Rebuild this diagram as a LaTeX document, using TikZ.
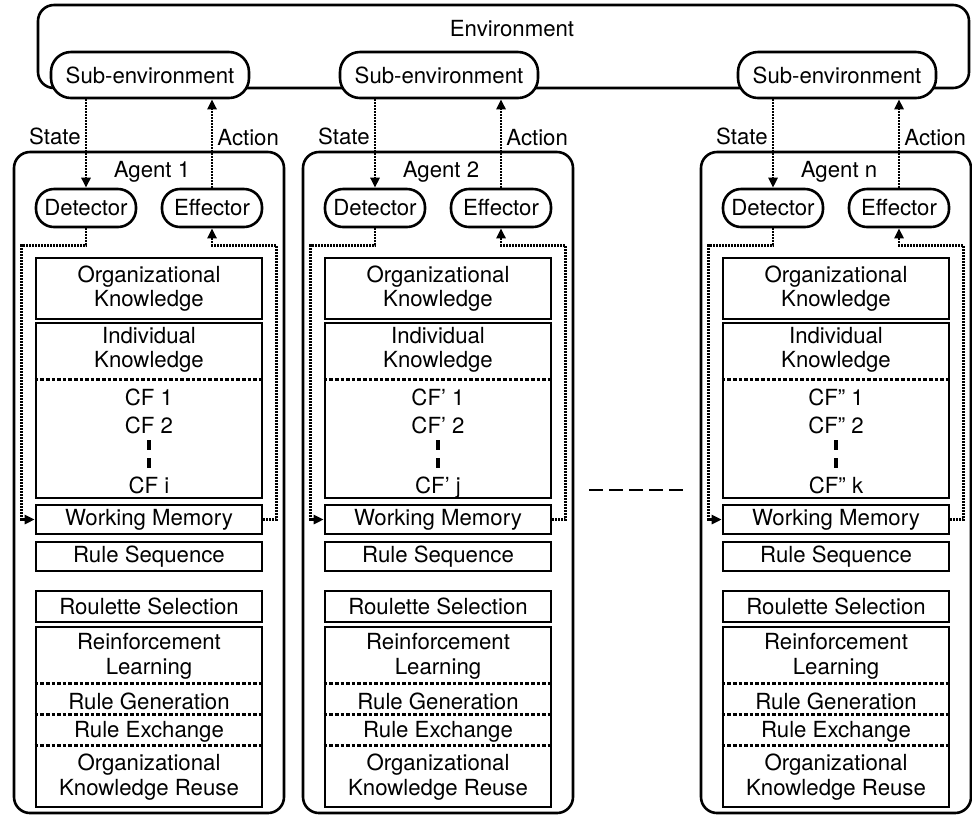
\documentclass[tikz,border=0pt]{standalone}
\usepackage{fontspec}
\setmainfont{TeX Gyre Heros}
\usetikzlibrary{positioning,arrows.meta,calc}

\begin{document}
\begin{tikzpicture}[
  x=0.5pt, y=-0.5pt,
  font=\fontsize{11.1}{12.3}\selectfont,
  envbox/.style={draw, line width=1.3pt, rounded corners=8pt,
    minimum width=465.5pt, minimum height=41.5pt},
  subenv/.style={draw, line width=1.3pt, fill=white, rounded corners=10pt,
    minimum width=99pt, minimum height=23pt, inner sep=0pt},
  agentbox/.style={draw, line width=1.3pt, rounded corners=8pt,
    minimum width=135pt, minimum height=330.5pt},
  port/.style={draw, line width=1.3pt, rounded corners=9pt,
    minimum width=50pt, minimum height=19pt, inner sep=0pt},
  unit/.style={draw, line width=1.3pt, align=center, inner sep=0pt,
    minimum width=113pt},
  txt/.style={align=center, inner sep=1pt},
  flow/.style={line width=1.4pt, dash pattern=on 1pt off 0.5pt,
    -{Triangle[length=5pt,width=4.5pt]}},
  sep/.style={line width=1.4pt, dash pattern=on 1.8pt off 1pt},
  vdash/.style={line width=1.6pt, dash pattern=on 4.6pt off 4.4pt},
  gapline/.style={line width=1.4pt, dash pattern=on 7pt off 3pt},
]
\useasboundingbox (0,0) rectangle (972,816);

% environment
\node[envbox] (env) at (503.5,46.5) {};
\node (envl) at (512,29) {Environment};

% agents
\foreach \i/\cx/\cf/\last in {1/149/CF/i, 2/438/CF’/j, n/836/CF”/k}{
  \node[subenv] (sub\i) at (\cx+1,75) {Sub-environment};
  \node[agentbox] (ag\i) at (\cx,482.5) {};
  \node (agl\i) at (\cx+3,172) {Agent \i};
  \node[port] (det\i) at (\cx-63,208) {Detector};
  \node[port] (eff\i) at (\cx+63,208) {Effector};

  \node[unit, minimum height=30.5pt] (orgk\i) at (\cx,288.5) {Organizational\\Knowledge};
  \node[unit, minimum height=87.5pt] (indk\i) at (\cx,410.5) {};
  \node[txt] (indl\i) at (\cx,350) {Individual\\Knowledge};
  \draw[sep] ([yshift=-29pt]indk\i.north west) -- ([yshift=-29pt]indk\i.north east);
  \node[anchor=base] (cfa\i) at (\cx,405) {\cf\ 1};
  \node[anchor=base] (cfb\i) at (\cx,433) {\cf\ 2};
  \node[anchor=base] (cfz\i) at (\cx,493) {\cf\ \last};
  \draw[vdash] (cfb\i) -- (cfz\i);

  \node[unit, minimum height=14.5pt] (wm\i) at (\cx,519.5) {Working Memory};
  \node[unit, minimum height=14.5pt] (rs\i) at (\cx,556.5) {Rule Sequence};
  \node[unit, minimum height=15.5pt] (rsel\i) at (\cx,606.5) {Roulette Selection};

  \node[unit, minimum height=90pt] (learn\i) at (\cx,717) {};
  \node[txt] (rl\i) at (\cx,656) {Reinforcement\\Learning};
  \node[txt] (rg\i) at (\cx,701) {Rule Generation};
  \node[txt] (rx\i) at (\cx,732) {Rule Exchange};
  \node[txt] (okr\i) at (\cx,777) {Organizational\\Knowledge Reuse};
  \draw[sep] ([yshift=-29pt]learn\i.north west) -- ([yshift=-29pt]learn\i.north east);
  \draw[sep] ([yshift=-44.5pt]learn\i.north west) -- ([yshift=-44.5pt]learn\i.north east);
  \draw[sep] ([yshift=-60pt]learn\i.north west) -- ([yshift=-60pt]learn\i.north east);

  % state / action
  \draw[flow] (det\i.north |- sub\i.south) -- node[left, pos=0.42, inner sep=2pt] (st\i) {State} (det\i.north);
  \draw[flow] (eff\i.north) -- node[right, pos=0.57, inner sep=2pt] (ac\i) {Action} (eff\i.north |- sub\i.south);

  % detector -> working memory -> effector
  \draw[flow] (det\i.south) -- ++(0,17) -| ([xshift=-6.5pt]wm\i.west) -- (wm\i.west);
  \draw[flow] (wm\i.east) -- ++(13,0) |- ($(eff\i.south)+(0,17)$) -- (eff\i.south);
}

\draw[gapline] ($(ag2.east |- cfz2.base)+(15,-3)$) -- ($(agn.west |- cfz2.base)+(-13,-3)$);
\end{tikzpicture}
\end{document}
